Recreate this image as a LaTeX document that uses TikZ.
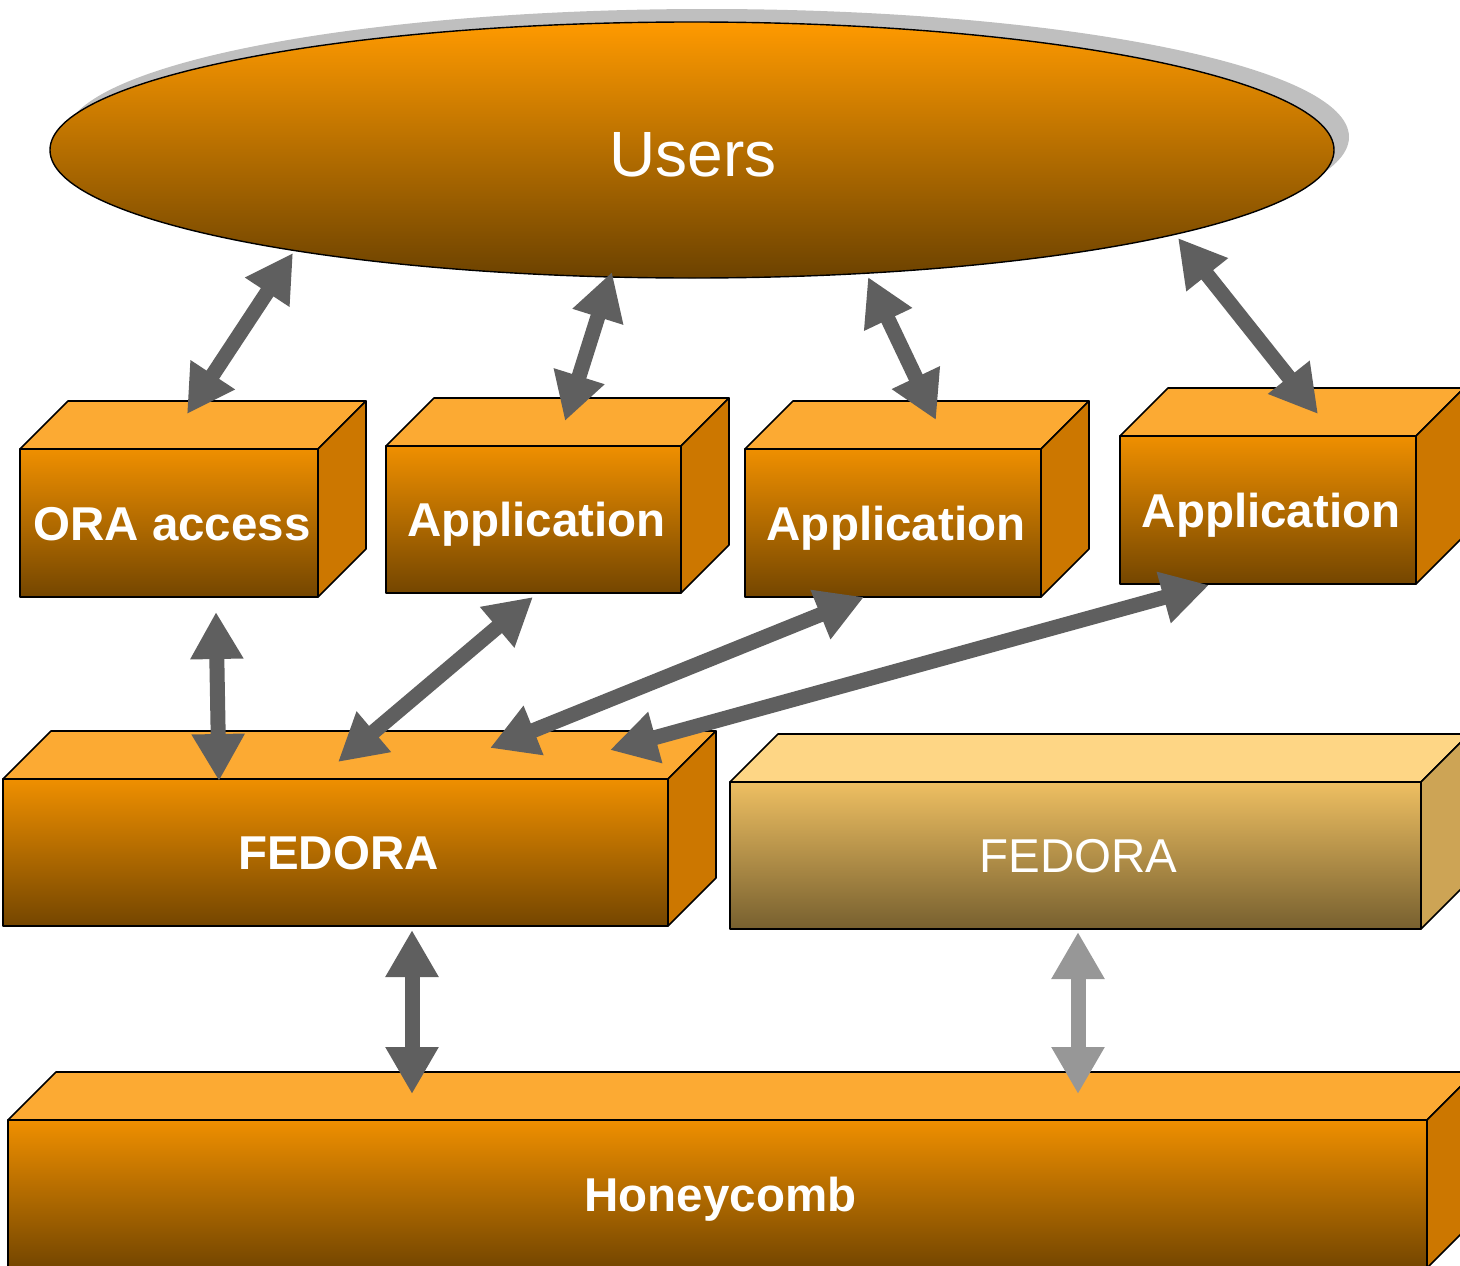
\documentclass[tikz,border=0pt]{standalone}
\usepackage{fontspec}
\setmainfont{Liberation Sans}
\usetikzlibrary{arrows.meta}
\definecolor{topface}{HTML}{FCAA33}
\definecolor{fronttop}{HTML}{EF8F00}
\definecolor{frontbot}{HTML}{744600}
\definecolor{sideface}{HTML}{CC7700}
\definecolor{ltop}{HTML}{FED685}
\definecolor{lfronttop}{HTML}{EEBF62}
\definecolor{lfrontbot}{HTML}{77602F}
\definecolor{lside}{HTML}{CDA455}
\definecolor{arrowdark}{HTML}{5F5F5F}
\definecolor{arrowlight}{HTML}{979797}
\definecolor{shadowgray}{HTML}{BFBFBF}
\definecolor{usertop}{HTML}{FF9A00}
\definecolor{usermid}{HTML}{C77800}
\definecolor{userbot}{HTML}{6C4200}
\tikzset{
  edge/.style={draw=black,line width=1.6pt,line join=round},
  boxtext/.style={text=white,font=\fontsize{47.5}{50}\selectfont\bfseries,inner sep=0pt,anchor=base},
  boxtextlight/.style={text=white,font=\fontsize{47.5}{50}\selectfont,inner sep=0pt,anchor=base},
  dblarrow/.style={draw=arrowdark,line width=15pt,
    {Triangle[width=50pt,length=47pt]}-{Triangle[width=50pt,length=47pt]}},
  dblarrowlight/.style={dblarrow,draw=arrowlight},
}
% \cubebox{name}{x1}{y1}{x2}{y2}{text}{text style}
\newcommand{\cubebox}[7]{%
  \fill[cbtop] (#2,#3) -- (#2+48,#3-48) -- (#4+48,#3-48) -- (#4,#3) -- cycle;
  \draw[edge] (#2,#3) -- (#2+48,#3-48) -- (#4+48,#3-48) -- (#4,#3) -- cycle;
  \fill[cbside] (#4,#3) -- (#4+48,#3-48) -- (#4+48,#5-48) -- (#4,#5) -- cycle;
  \draw[edge] (#4,#3) -- (#4+48,#3-48) -- (#4+48,#5-48) -- (#4,#5) -- cycle;
  \shade[top color=cbft,bottom color=cbfb] (#2,#3) rectangle (#4,#5);
  \draw[edge] (#2,#3) rectangle (#4,#5);
  \node[#7] (#1) at ({(#2+#4)/2+3},{(#3+#5)/2+17}) {#6};
}
\begin{document}
\begin{tikzpicture}[x=1pt,y=-1pt]
\useasboundingbox (0,0) rectangle (1460,1266);
\clip (0,0) rectangle (1460,1266);
% Users ellipse with shadow
\fill[shadowgray] (707,137) ellipse [x radius=642, y radius=128];
\shade[top color=usertop,middle color=usermid,bottom color=userbot] (692,150) ellipse [x radius=642, y radius=128];
\draw[draw=black,line width=1.4pt] (692,150) ellipse [x radius=642, y radius=128];
\node[text=white,font=\fontsize{64}{66}\selectfont,inner sep=0pt,anchor=base] (users) at (693,176) {Users};
% orange boxes
\colorlet{cbtop}{topface}\colorlet{cbside}{sideface}\colorlet{cbft}{fronttop}\colorlet{cbfb}{frontbot}
\cubebox{ora}{20}{449}{318}{597}{ORA access}{boxtext}
\cubebox{app1}{386}{446}{681}{593}{Application}{boxtext}
\cubebox{app2}{745}{449}{1041}{597}{Application}{boxtext}
\cubebox{app3}{1120}{436}{1416}{584}{Application}{boxtext}
\cubebox{fedora}{3}{779}{668}{926}{FEDORA}{boxtext}
\cubebox{honey}{8}{1120}{1427}{1268}{Honeycomb}{boxtext}
% light FEDORA
\colorlet{cbtop}{ltop}\colorlet{cbside}{lside}\colorlet{cbft}{lfronttop}\colorlet{cbfb}{lfrontbot}
\cubebox{fedora2}{730}{782}{1421}{929}{FEDORA}{boxtextlight}
% connector end points
\coordinate (u1) at (293,253);  \coordinate (o1) at (187,414);
\coordinate (u2) at (612,272);  \coordinate (a1t) at (565,421);
\coordinate (u3) at (868,277);  \coordinate (a2t) at (936,420);
\coordinate (u4) at (1178,238); \coordinate (a3t) at (1318,414);
\coordinate (ob) at (216,612);  \coordinate (f1) at (219,781);
\coordinate (a1b) at (533,597); \coordinate (f2) at (338,762);
\coordinate (a2b) at (864,597); \coordinate (f3) at (490,748);
\coordinate (a3b) at (1209,585);\coordinate (f4) at (610,750);
\coordinate (fb) at (412,930);  \coordinate (h1) at (412,1094);
\coordinate (gb) at (1078,932); \coordinate (h2) at (1078,1094);
% connectors
\draw[dblarrow] (u1) -- (o1);
\draw[dblarrow] (u2) -- (a1t);
\draw[dblarrow] (u3) -- (a2t);
\draw[dblarrow] (u4) -- (a3t);
\draw[dblarrow] (ob) -- (f1);
\draw[dblarrow] (a1b) -- (f2);
\draw[dblarrow] (a2b) -- (f3);
\draw[dblarrow] (a3b) -- (f4);
\draw[dblarrow] (fb) -- (h1);
\draw[dblarrowlight] (gb) -- (h2);
\end{tikzpicture}
\end{document}
